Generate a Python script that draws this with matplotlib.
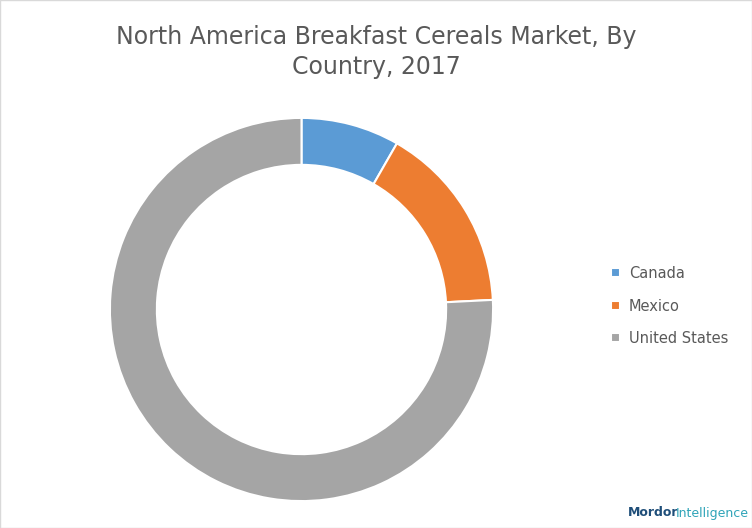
import matplotlib
matplotlib.use("Agg")
import matplotlib.pyplot as plt

categories = ["Canada", "Mexico", "United States"]
values = [8.3, 15.9, 75.8]
colors = ["#5b9bd5", "#ed7d31", "#a5a5a5"]

fig = plt.figure(figsize=(7.52, 5.28), dpi=100)
fig.patch.set_facecolor("white")
ax = fig.add_axes([108/752, 1-503/528, 387/752, 387/528])
wedges, _ = ax.pie(values, colors=colors, startangle=90, counterclock=False,
                   wedgeprops=dict(width=0.245, edgecolor="white", linewidth=1.5))
ax.set_xlim(-1.01, 1.01)
ax.set_ylim(-1.01, 1.01)
ax.set_aspect("equal")
fig.text(0.5, 1-52/528, "North America Breakfast Cereals Market, By\nCountry, 2017",
         ha="center", va="center", fontsize=17, color="#595959", linespacing=1.35)
leg = fig.legend(wedges, categories, loc="center left", bbox_to_anchor=(598/752, 1-306/528),
                 frameon=False, fontsize=10.5, handlelength=0.6, handleheight=0.6,
                 labelspacing=1.2, handletextpad=0.6)
for t in leg.get_texts():
    t.set_color("#595959")
fig.text(628/752, 1-513/528, "Mordor", ha="left", va="center", fontsize=9, color="#1f4e79", weight="bold")
fig.text(676/752, 1-513/528, "Intelligence", ha="left", va="center", fontsize=9, color="#2fa4b8")
fig.add_artist(plt.Rectangle((0, 0), 1, 1, transform=fig.transFigure, fill=False, edgecolor="#d9d9d9", lw=1))
fig.savefig("out.png", dpi=100)
